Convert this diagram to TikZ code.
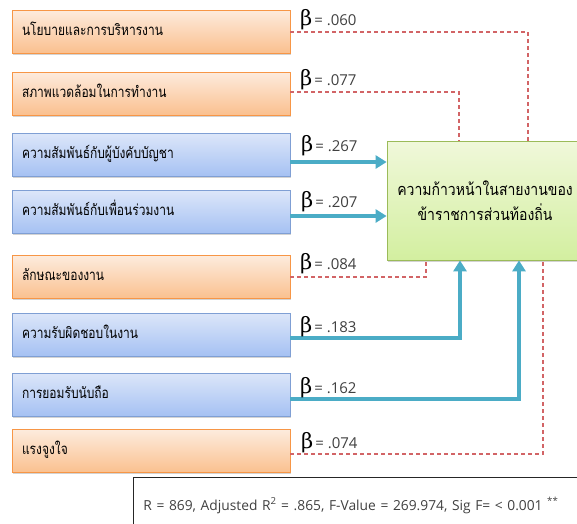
\documentclass[tikz,border=0pt]{standalone}
\usepackage{fontspec}
\setmainfont{Open Sans}
\newfontfamily\thaifont[Script=Thai,FakeStretch=0.8]{Loma}
\newfontfamily\goalfont[Script=Thai,FakeStretch=0.86]{Loma}
\newfontfamily\betafont{DejaVu Serif}
\usetikzlibrary{arrows.meta,shadows}

\definecolor{orangeline}{HTML}{F79646}
\definecolor{orangetop}{HTML}{FDEBDD}
\definecolor{orangebottom}{HTML}{FAC08F}
\definecolor{blueline}{HTML}{7F9FD4}
\definecolor{bluetop}{HTML}{DCE6F9}
\definecolor{bluebottom}{HTML}{A5C1F3}
\definecolor{greenline}{HTML}{9BBB59}
\definecolor{greentop}{HTML}{F0F8DA}
\definecolor{greenbottom}{HTML}{D3EFA0}
\definecolor{teal}{HTML}{4BACC6}
\definecolor{dashred}{HTML}{D26466}
\definecolor{textgrey}{HTML}{404040}

\newcommand\bval[1]{{\betafont\fontsize{21}{21}\selectfont β}\hspace{2pt}{\color{textgrey}\fontsize{15}{17}\selectfont = #1}}

\begin{document}
\begin{tikzpicture}
    [x=1pt,y=-1pt,
     factor/.style={draw,line width=0.8pt,minimum width=278pt,minimum height=43pt,
       text width=258pt,align=left,inner sep=0pt,text height=9pt,text depth=2pt,
       font=\thaifont\fontsize{15}{17}\selectfont,
       drop shadow={opacity=0.35,shadow xshift=1.2pt,shadow yshift=-1.5pt}},
     orangebox/.style={factor,draw=orangeline,top color=orangetop,bottom color=orangebottom},
     bluebox/.style={factor,draw=blueline,top color=bluetop,bottom color=bluebottom},
     goalbox/.style={draw=greenline,line width=0.8pt,top color=greentop,bottom color=greenbottom,
       minimum width=196pt,minimum height=119pt,align=center,inner sep=0pt,
       font=\goalfont\fontsize{16.3}{25}\selectfont,
       drop shadow={opacity=0.35,shadow xshift=1.2pt,shadow yshift=-1.5pt}},
     beta/.style={anchor=base west,inner sep=0pt},
     weak/.style={color=dashred,draw=dashred,line width=1.2pt,dash pattern=on 4pt off 3pt},
     strong/.style={color=teal,draw=teal,line width=3.5pt},
     strongtip/.style={strong,-{Triangle[length=11pt,width=13pt]}}]
    \useasboundingbox (0,0) rectangle (577,523);
    \clip (0,0) rectangle (577,523);

    \node (p1) at (151,31.5) [orangebox] {นโยบายและการบริหารงาน};
    \node (p2) at (151,93.5) [orangebox] {สภาพแวดล้อมในการทำงาน};
    \node (p3) at (151,155) [bluebox] {ความสัมพันธ์กับผู้บังคับบัญชา};
    \node (p4) at (151,212) [bluebox] {ความสัมพันธ์กับเพื่อนร่วมงาน};
    \node (p5) at (151,277) [orangebox] {ลักษณะของงาน};
    \node (p6) at (151,334.5) [bluebox] {ความรับผิดชอบในงาน};
    \node (p7) at (151,394.5) [bluebox] {การยอมรับนับถือ};
    \node (p8) at (151,451) [orangebox] {แรงจูงใจ};
    \node (goal) at (485,200.5) [goalbox] {ความก้าวหน้าในสายงานของ\\ข้าราชการส่วนท้องถิ่น};

    \node (stats) at (133,477) [anchor=north west,draw=black!85,line width=0.8pt,
      minimum height=56pt,text width=450pt,align=left,inner xsep=10pt,
      text=textgrey,font=\fontsize{13.8}{16}\selectfont]
      {R = 869, Adjusted R\textsuperscript{2} = .865, F-Value = 269.974, Sig F= < 0.001 \textsuperscript{**}};

    \draw [weak] ([yshift=-0.5pt]p1.east) -| ([xshift=43pt]goal.north);
    \draw [weak] ([yshift=1.5pt]p2.east) -| ([xshift=-26pt]goal.north);
    \draw [strongtip] ([yshift=-7pt]p3.east) -- ([yshift=-7pt]p3.east -| goal.west);
    \draw [strongtip] ([yshift=-4pt]p4.east) -- ([yshift=-4pt]p4.east -| goal.west);
    \draw [weak] (p5.east) -| ([xshift=-59pt]goal.south);
    \draw [strongtip] ([yshift=-3.5pt]p6.east) -| ([xshift=-25pt]goal.south);
    \draw [strongtip] ([yshift=-4.5pt]p7.east) -| ([xshift=34pt]goal.south);
    \draw [weak] ([yshift=-3pt]p8.east) -| ([xshift=58pt]goal.south);

    \node (b1) at (300,25) [beta] {\bval{.060}};
    \node (b2) at (300,85) [beta] {\bval{.077}};
    \node (b3) at (301,151) [beta] {\bval{.267}};
    \node (b4) at (301,207) [beta] {\bval{.207}};
    \node (b5) at (300,269) [beta] {\bval{.084}};
    \node (b6) at (300,332) [beta] {\bval{.183}};
    \node (b7) at (300,393) [beta] {\bval{.162}};
    \node (b8) at (301,448) [beta] {\bval{.074}};
  \end{tikzpicture}
\end{document}
